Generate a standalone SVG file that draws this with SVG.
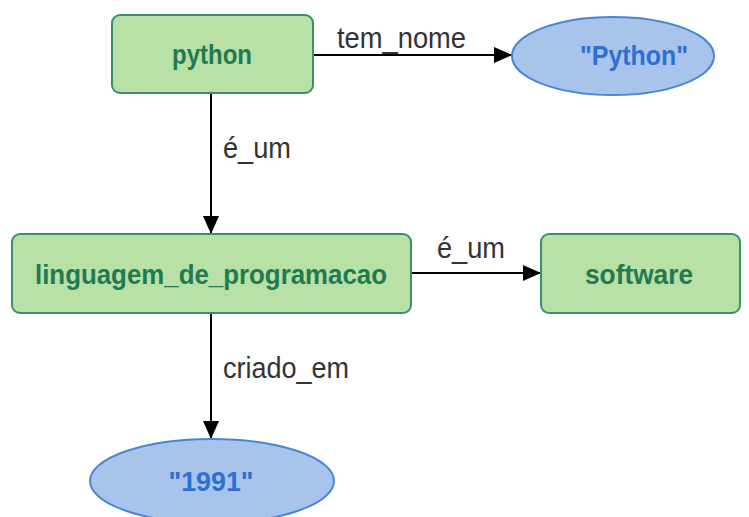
<svg xmlns="http://www.w3.org/2000/svg" width="749" height="517" viewBox="0 0 749 517">
  <style>
    .box { fill: #b9e0a5; stroke: #3b8f6e; stroke-width: 2; }
    .lit { fill: #a9c4eb; stroke: #4a85d6; stroke-width: 2; }
    .boxtxt { font-family: "Liberation Sans", Arial, sans-serif; font-weight: bold; font-size: 28px; fill: #1f7b52; text-anchor: middle; }
    .littxt { font-family: "Liberation Sans", Arial, sans-serif; font-weight: bold; font-size: 28px; fill: #2e6fd0; text-anchor: middle; }
    .edge { stroke: #000; stroke-width: 2; fill: none; }
    .elabel { font-family: "Liberation Sans", Arial, sans-serif; font-size: 29px; fill: #333; }
  </style>
  <defs>
    <marker id="arrow" markerUnits="userSpaceOnUse" markerWidth="20" markerHeight="20" viewBox="0 0 20 20" refX="18" refY="10" orient="auto">
      <path d="M0,2 L18,10 L0,18 Z" fill="#000"/>
    </marker>
  </defs>
  <rect width="749" height="517" fill="#fff"/>

  <g id="connectors">
    <line class="edge" x1="313" y1="55" x2="512" y2="55" marker-end="url(#arrow)"/>
    <text class="elabel" x="337" y="48" textLength="129" lengthAdjust="spacingAndGlyphs">tem_nome</text>
    <line class="edge" x1="211" y1="93" x2="211" y2="234" marker-end="url(#arrow)"/>
    <text class="elabel" x="223" y="158" textLength="68" lengthAdjust="spacingAndGlyphs">é_um</text>
    <line class="edge" x1="411" y1="273" x2="541" y2="273" marker-end="url(#arrow)"/>
    <text class="elabel" x="437" y="258" textLength="68" lengthAdjust="spacingAndGlyphs">é_um</text>
    <line class="edge" x1="211" y1="313" x2="211" y2="439" marker-end="url(#arrow)"/>
    <text class="elabel" x="223" y="378" textLength="126" lengthAdjust="spacingAndGlyphs">criado_em</text>
  </g>

  <g id="python">
    <rect class="box" x="112" y="15" width="201" height="78" rx="8"/>
    <text class="boxtxt" x="212" y="64" textLength="80" lengthAdjust="spacingAndGlyphs">python</text>
  </g>
  <g id="python_literal">
    <ellipse class="lit" cx="613" cy="56" rx="101" ry="39"/>
    <text class="littxt" x="634" y="65" textLength="108" lengthAdjust="spacingAndGlyphs">"Python"</text>
  </g>
  <g id="linguagem_de_programacao">
    <rect class="box" x="12" y="234" width="399" height="79" rx="8"/>
    <text class="boxtxt" x="211" y="284" textLength="352" lengthAdjust="spacingAndGlyphs">linguagem_de_programacao</text>
  </g>
  <g id="software">
    <rect class="box" x="541" y="234" width="199" height="79" rx="8"/>
    <text class="boxtxt" x="639" y="284" textLength="108" lengthAdjust="spacingAndGlyphs">software</text>
  </g>
  <g id="year_literal">
    <ellipse class="lit" cx="212" cy="481" rx="122" ry="42"/>
    <text class="littxt" x="211" y="491" textLength="85" lengthAdjust="spacingAndGlyphs">"1991"</text>
  </g>
</svg>
